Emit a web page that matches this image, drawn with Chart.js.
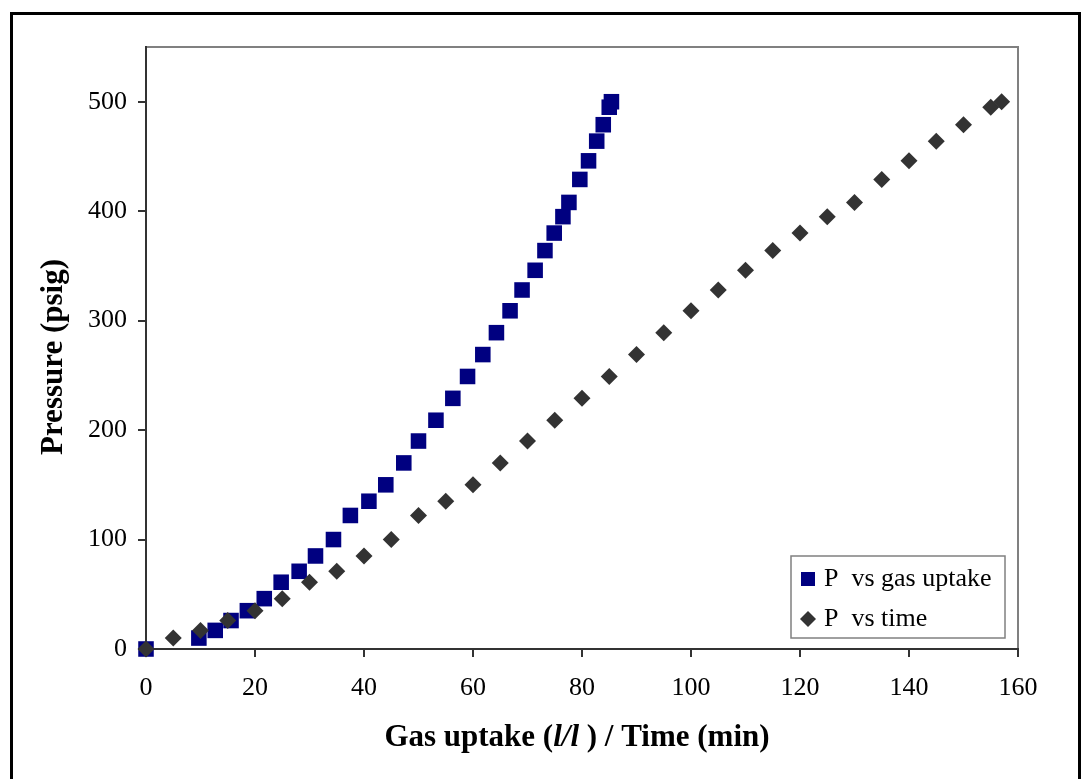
<!DOCTYPE html>
<html>
<head>
<meta charset="utf-8">
<script src="https://cdn.jsdelivr.net/npm/chart.js"></script>
<style>
html, body { margin: 0; padding: 0; background: #fff; }
#wrap { width: 1082px; height: 779px; position: relative; }
</style>
</head>
<body>
<div id="wrap"><canvas id="chart"></canvas></div>
<script>
// pressure readings (psig), shared by both series
var pressure = [0, 10, 17, 26, 35, 46, 61, 71, 85, 100, 122, 135, 150, 170, 190, 209, 229, 249, 269, 289,
                309, 328, 346, 364, 380, 395, 408, 429, 446, 464, 479, 495, 500];
// gas uptake (l/l)
var gasUptake = [0, 9.7, 12.7, 15.6, 18.6, 21.7, 24.8, 28.1, 31.1, 34.4, 37.5, 40.9, 44.0, 47.3, 50.0, 53.2, 56.3, 59.0, 61.8, 64.3,
                 66.8, 69.0, 71.4, 73.2, 74.9, 76.5, 77.6, 79.6, 81.2, 82.7, 83.9, 85.0, 85.4];
// time (min)
var timeMin = [0, 5, 10, 15, 20, 25, 30, 35, 40, 45, 50, 55, 60, 65, 70, 75, 80, 85, 90, 95,
               100, 105, 110, 115, 120, 125, 130, 135, 140, 145, 150, 155, 157];
var xTicks = [0, 20, 40, 60, 80, 100, 120, 140, 160];
var yTicks = [0, 100, 200, 300, 400, 500];

var serif = "'Liberation Serif', 'Times New Roman', serif";

function pts(xs, ys) {
    var out = [];
    for (var i = 0; i < xs.length; i++) out.push({x: xs[i], y: ys[i]});
    return out;
}

// outer frame, plot frame, titles and legend
var decor = {
    id: 'decor',
    beforeDraw: function(chart) {
        var ctx = chart.ctx, a = chart.chartArea;
        ctx.save();
        ctx.fillStyle = '#fff';
        ctx.fillRect(0, 0, chart.width, chart.height);
        ctx.strokeStyle = '#000';
        ctx.lineWidth = 3;
        ctx.strokeRect(11.5, 13.5, 1068, 800);
        ctx.strokeStyle = '#808080';
        ctx.lineWidth = 2;
        ctx.strokeRect(a.left, a.top, a.right - a.left, a.bottom - a.top);
        ctx.restore();
    },
    afterDraw: function(chart) {
        var ctx = chart.ctx;
        ctx.save();
        ctx.fillStyle = '#000';
        // y title
        ctx.font = 'bold 31px ' + serif;
        ctx.textAlign = 'center';
        ctx.textBaseline = 'middle';
        ctx.translate(54, 357);
        ctx.rotate(-Math.PI / 2);
        ctx.fillText('Pressure (psig)', 0, 0);
        ctx.setTransform(1, 0, 0, 1, 0, 0);
        // x title with italic l/l
        var parts = [['Gas uptake (', 'bold 31px '], ['l/l', 'italic bold 31px '], [' ) / Time (min)', 'bold 31px ']];
        var total = 0;
        parts.forEach(function(p) { ctx.font = p[1] + serif; total += ctx.measureText(p[0]).width; });
        var x = 577 - total / 2;
        ctx.textAlign = 'left';
        parts.forEach(function(p) {
            ctx.font = p[1] + serif;
            ctx.fillText(p[0], x, 738);
            x += ctx.measureText(p[0]).width;
        });
        // legend
        ctx.fillStyle = '#fff';
        ctx.fillRect(791, 556, 214, 82);
        ctx.strokeStyle = '#808080';
        ctx.lineWidth = 1.5;
        ctx.strokeRect(791, 556, 214, 82);
        ctx.font = '26px ' + serif;
        ctx.textBaseline = 'middle';
        var ds = chart.data.datasets;
        ds.forEach(function(d, i) {
            var cy = 579 + i * 40;
            ctx.fillStyle = d.backgroundColor;
            if (d.pointStyle === 'rect') {
                ctx.fillRect(801, cy - 7, 14, 14);
            } else {
                ctx.beginPath();
                ctx.moveTo(808, cy - 8);
                ctx.lineTo(816, cy);
                ctx.lineTo(808, cy + 8);
                ctx.lineTo(800, cy);
                ctx.closePath();
                ctx.fill();
            }
            ctx.fillStyle = '#000';
            ctx.fillText(d.label, 824, cy);
        });
        ctx.restore();
    }
};

new Chart(document.getElementById('chart').getContext('2d'), {
    type: 'scatter',
    data: {
        datasets: [{
            label: 'P  vs gas uptake',
            data: pts(gasUptake, pressure),
            pointStyle: 'rect',
            pointRadius: 11,
            pointHoverRadius: 11,
            backgroundColor: '#000080',
            borderColor: '#000080',
            borderWidth: 0,
            clip: false,
            order: 2
        }, {
            label: 'P  vs time',
            data: pts(timeMin, pressure),
            pointStyle: 'rectRot',
            pointRadius: 8.5,
            pointHoverRadius: 8.5,
            backgroundColor: '#333333',
            borderColor: '#333333',
            borderWidth: 0,
            clip: false,
            order: 1
        }]
    },
    options: {
        responsive: true,
        maintainAspectRatio: false,
        animation: false,
        events: [],
        layout: { padding: { left: 0, top: 47, right: 64, bottom: 0 } },
        plugins: { legend: { display: false }, tooltip: { enabled: false } },
        scales: {
            x: {
                type: 'linear',
                min: 0, max: 160,
                afterFit: function(s) { s.height = 130; },
                afterBuildTicks: function(s) { s.ticks = xTicks.map(function(v) { return {value: v}; }); },
                grid: { drawOnChartArea: false, drawTicks: true, tickLength: 8, color: '#333', lineWidth: 2 },
                border: { display: true, color: '#333', width: 2 },
                ticks: { color: '#000', padding: 16, maxRotation: 0, font: { family: serif, size: 26 } }
            },
            y: {
                type: 'linear',
                min: 0, max: 550,
                afterFit: function(s) { s.width = 146; },
                afterBuildTicks: function(s) { s.ticks = yTicks.map(function(v) { return {value: v}; }); },
                grid: { drawOnChartArea: false, drawTicks: true, tickLength: 8, color: '#333', lineWidth: 2 },
                border: { display: true, color: '#333', width: 2 },
                ticks: { color: '#000', padding: 11, font: { family: serif, size: 26 } }
            }
        }
    },
    plugins: [decor]
});
</script>
</body>
</html>
